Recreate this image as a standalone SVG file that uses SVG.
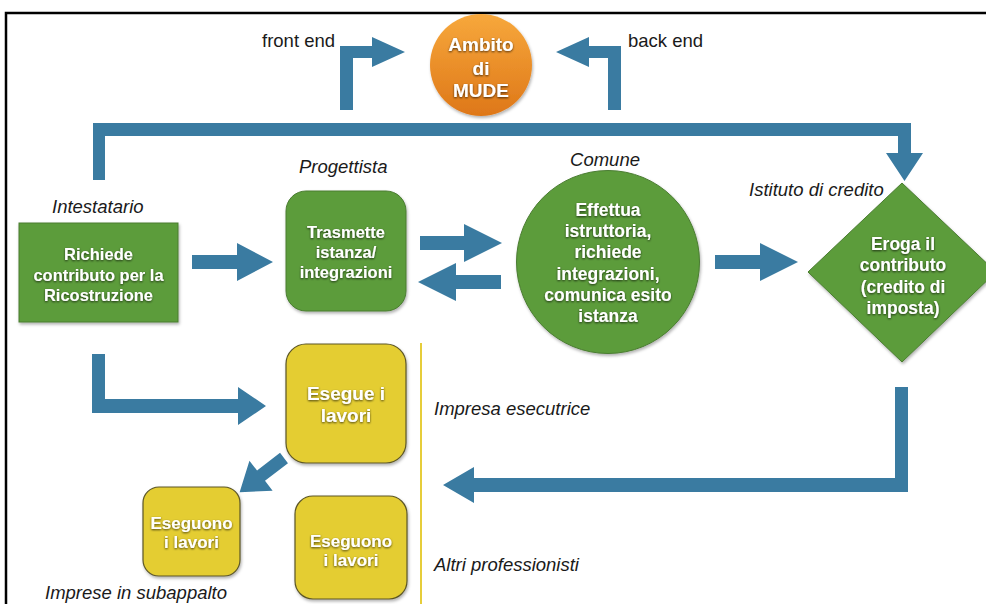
<svg xmlns="http://www.w3.org/2000/svg" width="986" height="604" viewBox="0 0 986 604">
<defs>
<style>
.arr{fill:#3a7ba1;}
.lbl{font-family:"Liberation Sans",Arial,sans-serif;font-style:italic;font-size:18.5px;fill:#1a1a1a;}
.plain{font-family:"Liberation Sans",Arial,sans-serif;font-size:18.5px;fill:#1a1a1a;}
.nt{font-family:"Liberation Sans",Arial,sans-serif;font-weight:bold;fill:#ffffff;text-anchor:middle;filter:url(#ts);}
.green{fill:#5c9c3b;stroke:#4a7c31;stroke-width:1;filter:url(#sh);}
.yellow{fill:#e4cd30;stroke:#5c5628;stroke-width:1.2;filter:url(#sh);}
</style>
<filter id="sh" x="-10%" y="-10%" width="130%" height="130%">
<feDropShadow dx="1" dy="2" stdDeviation="1.5" flood-color="#000" flood-opacity="0.3"/>
</filter>
<filter id="ts" x="-10%" y="-30%" width="120%" height="160%">
<feDropShadow dx="0" dy="1" stdDeviation="0.8" flood-color="#000" flood-opacity="0.7"/>
</filter>
<linearGradient id="og" x1="0" y1="0" x2="0" y2="1">
<stop offset="0" stop-color="#f7a83c"/>
<stop offset="1" stop-color="#de7718"/>
</linearGradient>
</defs>
<rect x="0" y="0" width="986" height="604" fill="#ffffff"/>
<g id="frame">
<path d="M6 604 V13 H986" fill="none" stroke="#000" stroke-width="2.5"/>
</g>
<g id="divider">
<line x1="421" y1="343" x2="421" y2="604" stroke="#e6cd3a" stroke-width="2"/>
</g>
<g id="connectors">
<polygon class="arr" points="340,110 340,46 372,46 372,37 405,52 372,67 372,58 353,58 353,110"/>
<polygon class="arr" points="621,110 621,46 589,46 589,37 556,52 589,67 589,58 608,58 608,110"/>
<polygon class="arr" points="93,180 93,123 911,123 911,153 923,153 904.5,181 886,153 898,153 898,136 105,136 105,180"/>
<polygon class="arr" points="192,255 237,255 237,243 273,262 237,281 237,269 192,269"/>
<polygon class="arr" points="420,236 464,236 464,224 502,243 464,262 464,250 420,250"/>
<polygon class="arr" points="501,275 456,275 456,263 418,282 456,301 456,289 501,289"/>
<polygon class="arr" points="715,255 760,255 760,243 798,262 760,281 760,269 715,269"/>
<polygon class="arr" points="92,354 105,354 105,399 238,399 238,387 266,406 238,425 238,413 92,413"/>
<polygon class="arr" transform="translate(284,458) rotate(142.4)" points="0,-6.5 29,-6.5 29,-19 56,0 29,19 29,6.5 0,6.5"/>
<polygon class="arr" points="895,387 908,387 908,492 474,492 474,503 443,485 474,467 474,478 895,478"/>
<text class="plain" x="262" y="47">front end</text>
<text class="plain" x="628" y="47">back end</text>
</g>
<g id="mude">
<circle cx="481" cy="65" r="51" fill="url(#og)" filter="url(#sh)"/>
<text class="nt" font-size="19" x="481" y="51">Ambito</text>
<text class="nt" font-size="19" x="481" y="75">di</text>
<text class="nt" font-size="19" x="481" y="97">MUDE</text>
</g>
<g id="intestatario">
<text class="lbl" x="52" y="213">Intestatario</text>
<rect class="green" x="19" y="223" width="159" height="99"/>
<text class="nt" font-size="16.5" x="98.5" y="260">Richiede</text>
<text class="nt" font-size="16.5" x="98.5" y="281">contributo per la</text>
<text class="nt" font-size="16.5" x="98.5" y="301">Ricostruzione</text>
</g>
<g id="progettista">
<text class="lbl" x="299" y="173">Progettista</text>
<rect class="green" x="286" y="191" width="120" height="120" rx="20"/>
<text class="nt" font-size="16.5" x="346" y="238">Trasmette</text>
<text class="nt" font-size="16.5" x="346" y="258">istanza/</text>
<text class="nt" font-size="16.5" x="346" y="278">integrazioni</text>
</g>
<g id="comune">
<text class="lbl" x="605" y="166" text-anchor="middle">Comune</text>
<circle class="green" cx="608" cy="262" r="91.5"/>
<text class="nt" font-size="17.5" x="608" y="216">Effettua</text>
<text class="nt" font-size="17.5" x="608" y="237">istruttoria,</text>
<text class="nt" font-size="17.5" x="608" y="258">richiede</text>
<text class="nt" font-size="17.5" x="608" y="280">integrazioni,</text>
<text class="nt" font-size="17.5" x="608" y="301">comunica esito</text>
<text class="nt" font-size="17.5" x="608" y="322">istanza</text>
</g>
<g id="istituto">
<polygon class="green" points="902,183 996,272 902,362 808,272"/>
<text class="lbl" x="749" y="196">Istituto di credito</text>
<text class="nt" font-size="17.5" x="903" y="250">Eroga il</text>
<text class="nt" font-size="17.5" x="903" y="271">contributo</text>
<text class="nt" font-size="17.5" x="903" y="293">(credito di</text>
<text class="nt" font-size="17.5" x="903" y="314">imposta)</text>
</g>
<g id="impresa-esecutrice">
<rect class="yellow" x="286" y="344" width="120" height="119" rx="20"/>
<text class="nt" font-size="19" x="346" y="400">Esegue i</text>
<text class="nt" font-size="19" x="346" y="422">lavori</text>
<text class="lbl" x="434" y="415">Impresa esecutrice</text>
</g>
<g id="subappalto">
<rect class="yellow" x="143" y="487" width="97" height="89" rx="16"/>
<text class="nt" font-size="17" x="191.5" y="529">Eseguono</text>
<text class="nt" font-size="17" x="191.5" y="548">i lavori</text>
<text class="lbl" x="45" y="599">Imprese in subappalto</text>
</g>
<g id="altri-professionisti">
<rect class="yellow" x="295" y="496" width="112" height="103" rx="18"/>
<text class="nt" font-size="17" x="351" y="547">Eseguono</text>
<text class="nt" font-size="17" x="351" y="566">i lavori</text>
<text class="lbl" x="434" y="571">Altri professionisti</text>
</g>
</svg>
